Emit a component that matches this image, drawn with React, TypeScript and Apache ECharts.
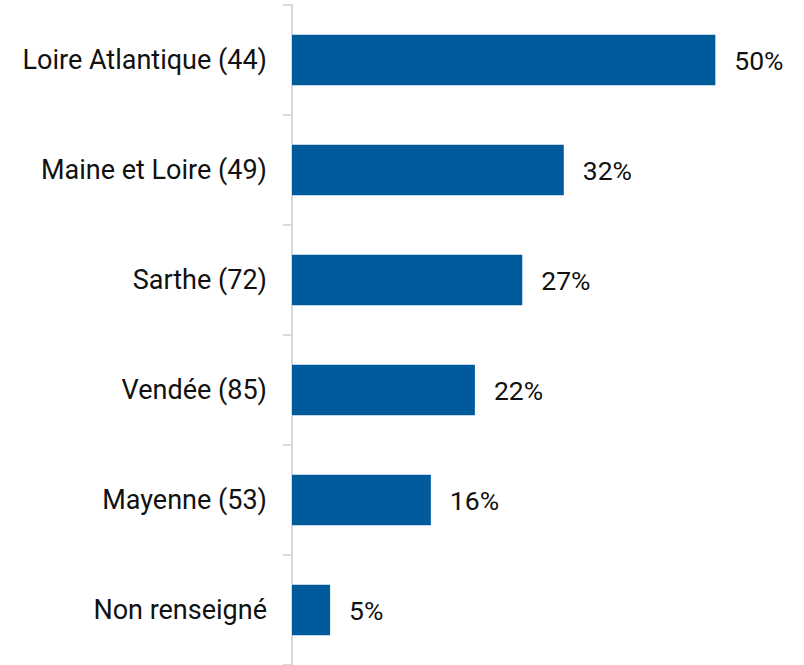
import React, { useEffect, useRef } from "react";
import * as echarts from "echarts";

const categories = [
  "Loire Atlantique (44)",
  "Maine et Loire (49)",
  "Sarthe (72)",
  "Vendée (85)",
  "Mayenne (53)",
  "Non renseigné",
];
const values = [50, 32.1, 27.2, 21.6, 16.4, 4.5];
const valueLabels = ["50%", "32%", "27%", "22%", "16%", "5%"];

export default function App() {
  const ref = useRef<HTMLDivElement>(null);
  useEffect(() => {
    const chart = echarts.init(ref.current!, null, { renderer: "svg" });
    chart.setOption({
      animation: false,
      textStyle: { fontFamily: "Roboto" },
      grid: { left: 292, right: 4, top: 5, bottom: 0, containLabel: false },
      xAxis: {
        type: "value",
        min: 0,
        max: 60,
        show: false,
      },
      yAxis: {
        type: "category",
        data: categories,
        inverse: true,
        axisLine: { show: true, lineStyle: { color: "#d9d9d9", width: 2 } },
        axisTick: { show: true, length: 9, lineStyle: { color: "#d9d9d9", width: 2 } },
        axisLabel: { margin: 25, fontSize: 27, color: "#111111", fontFamily: "Roboto" },
        splitLine: { show: false },
      },
      series: [
        {
          type: "bar",
          data: values,
          barWidth: "46%",
          itemStyle: { color: "#005a9c" },
          label: {
            show: true,
            position: "right",
            distance: 19,
            formatter: (p: any) => valueLabels[p.dataIndex],
            fontSize: 26.5,
            color: "#111111",
            fontFamily: "Roboto",
          },
        },
      ],
    });
    return () => chart.dispose();
  }, []);
  return (
    <div
      ref={ref}
      style={{ position: "absolute", left: 0, top: 0, width: 804, height: 665 }}
    />
  );
}
